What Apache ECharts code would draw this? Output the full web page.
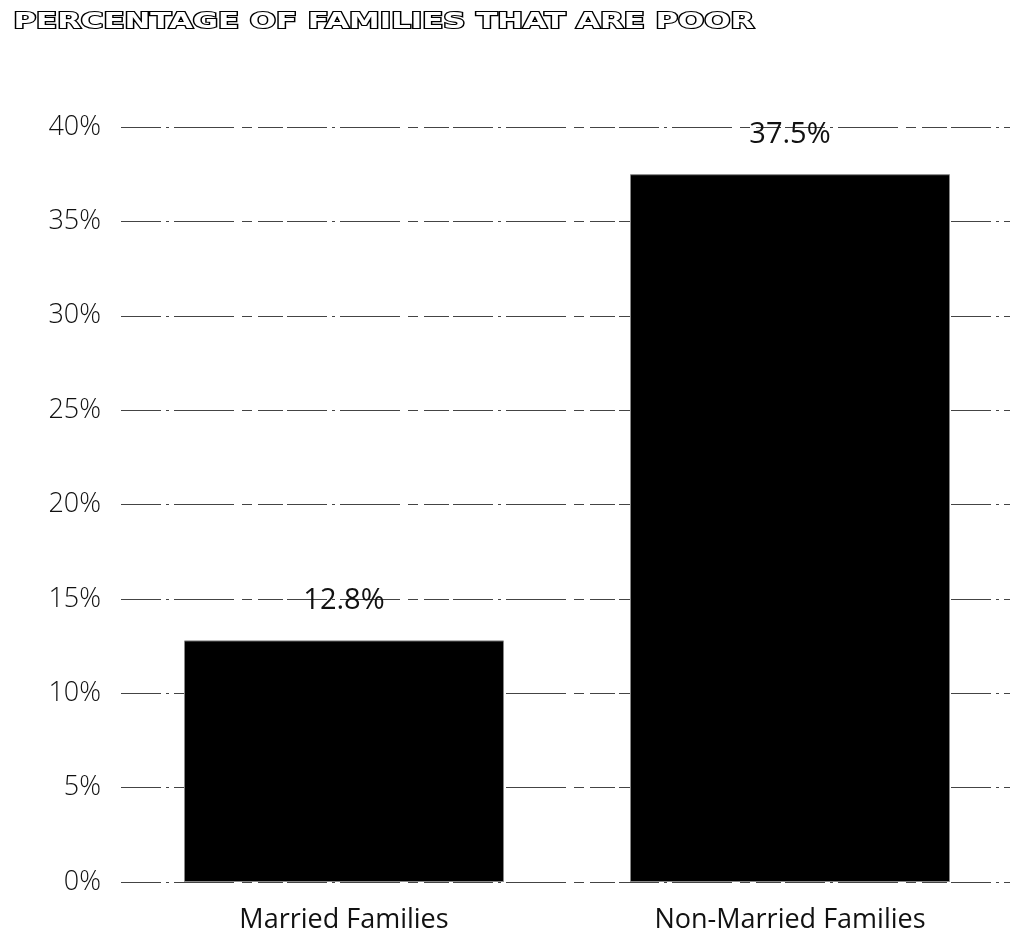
<!DOCTYPE html>
<html>
<head>
<meta charset="utf-8">
<script src="https://cdn.jsdelivr.net/npm/echarts@6/dist/echarts.min.js"></script>
<style>
  html, body { margin: 0; padding: 0; background: #fff; }
  #chart { width: 1010px; height: 941px; }
</style>
</head>
<body>
<div id="chart"></div>
<script>
// Poverty rate by family type
const chartTitle = 'PERCENTAGE OF FAMILIES THAT ARE POOR';
const categories = ['Married Families', 'Non-Married Families'];
const povertyRates = [12.8, 37.5];
const yTicks = [0, 5, 10, 15, 20, 25, 30, 35, 40];

const chart = echarts.init(document.getElementById('chart'));

chart.setOption({
  backgroundColor: '#ffffff',
  animation: false,
  graphic: [{
    type: 'text',
    left: 12,
    top: 10,
    scaleX: 1.4,
    style: {
      text: chartTitle,
      font: 'bold 22px "DejaVu Sans"',
      fill: '#ffffff',
      stroke: '#000000',
      lineWidth: 2.2
    }
  }],
  grid: {
    left: 121,
    top: 127,
    width: 892,
    height: 755,
    outerBoundsMode: 'none',
    containLabel: false
  },
  xAxis: {
    type: 'category',
    data: categories,
    axisLine: { show: false },
    axisTick: { show: false },
    axisLabel: {
      margin: 25,
      color: '#111',
      fontFamily: '"Open Sans"',
      fontSize: 27,
      fontWeight: 400
    }
  },
  yAxis: {
    type: 'value',
    min: 0,
    max: 40,
    interval: 5,
    axisLine: { show: false },
    axisTick: { show: false },
    axisLabel: {
      margin: 20,
      color: '#111',
      fontFamily: '"Open Sans"',
      fontSize: 27,
      fontWeight: 300,
      formatter: v => yTicks.includes(v) ? v + '%' : ''
    },
    splitLine: {
      show: true,
      lineStyle: {
        color: '#444',
        width: 1,
        type: [40, 5, 3, 5, 60, 8, 10, 6, 25, 4]
      }
    }
  },
  series: [{
    type: 'bar',
    data: povertyRates,
    barWidth: 320,
    itemStyle: {
      color: '#000000',
      borderColor: '#888888',
      borderWidth: 1
    },
    label: {
      show: true,
      position: 'top',
      distance: 25,
      color: '#111',
      fontFamily: '"Open Sans"',
      fontSize: 29,
      fontWeight: 400,
      formatter: p => p.value + '%'
    }
  }]
});
</script>
</body>
</html>
